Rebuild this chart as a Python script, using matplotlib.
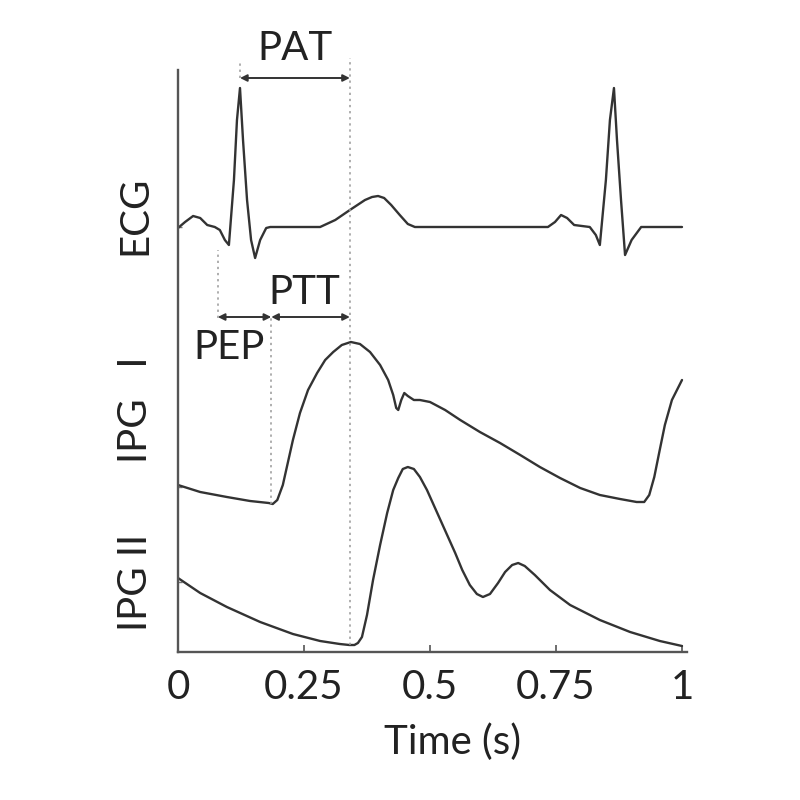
import matplotlib
matplotlib.use("Agg")
import matplotlib.pyplot as plt
import numpy as np

plt.rcParams['font.family'] = ['Lato', 'DejaVu Sans']

# ---- data (time in s, amplitude in arbitrary units) ----
ecg_t = [0.000, 0.014, 0.030, 0.044, 0.058, 0.073, 0.083, 0.093, 0.101, 0.111, 0.117, 0.123,
         0.129, 0.137, 0.145, 0.153, 0.163, 0.175, 0.183, 0.282, 0.312, 0.341, 0.371, 0.385,
         0.397, 0.409, 0.423, 0.440, 0.456, 0.470, 0.734, 0.748, 0.760, 0.772, 0.786, 0.817,
         0.829, 0.837, 0.849, 0.857, 0.865, 0.871, 0.879, 0.887, 0.900, 0.919, 1.000]
ecg_v = [424, 430, 436, 434, 427, 425, 422, 412, 407, 472, 532, 564,
         512, 452, 412, 394, 412, 424, 425, 425, 432, 442, 452, 455,
         456, 454, 447, 437, 428, 425, 425, 430, 437, 434, 427, 425,
         417, 407, 472, 532, 564, 512, 452, 397, 412, 425, 425]

ipg1_t = [0.000, 0.044, 0.097, 0.143, 0.180, 0.188, 0.197, 0.208, 0.216, 0.228, 0.242, 0.258,
          0.276, 0.292, 0.308, 0.325, 0.343, 0.361, 0.381, 0.401, 0.417, 0.427, 0.433, 0.437,
          0.443, 0.449, 0.456, 0.468, 0.480, 0.500, 0.530, 0.560, 0.599, 0.639, 0.679, 0.718,
          0.758, 0.798, 0.837, 0.877, 0.910, 0.925, 0.935, 0.945, 0.955, 0.966, 0.980, 1.000]
ipg1_v = [167, 160, 155, 151, 149, 148, 152, 167, 185, 212, 239, 262,
          279, 292, 300, 307, 310, 308, 300, 287, 272, 257, 244, 242,
          252, 259, 256, 252, 252, 250, 242, 232, 220, 209, 197, 185,
          174, 164, 157, 153, 150, 150, 157, 175, 200, 227, 252, 272]

ipg2_t = [0.000, 0.044, 0.097, 0.163, 0.228, 0.282, 0.321, 0.340, 0.350, 0.357, 0.365, 0.375,
          0.387, 0.401, 0.415, 0.427, 0.437, 0.446, 0.456, 0.468, 0.480, 0.494, 0.510, 0.534,
          0.550, 0.564, 0.579, 0.593, 0.605, 0.619, 0.635, 0.649, 0.663, 0.675, 0.688, 0.708,
          0.738, 0.778, 0.837, 0.897, 0.956, 1.000]
ipg2_v = [74, 59, 45, 30, 18, 11, 8, 7, 7, 9, 15, 37,
          72, 107, 139, 162, 174, 183, 185, 183, 175, 162, 144, 117,
          99, 82, 67, 58, 55, 58, 69, 80, 87, 89, 86, 77,
          62, 47, 32, 20, 11, 6]

x_ticks = [0, 0.25, 0.5, 0.75, 1]
x_tick_labels = ["0", "0.25", "0.5", "0.75", "1"]
trace_names = ["ECG", "IPG   I", "IPG II"]

# event times (s)
t_q = 0.079      # ECG Q onset
t_r = 0.123      # ECG R peak
t_foot1 = 0.185  # IPG I foot
t_arr = 0.341    # pulse arrival

# ---- figure ----
fig = plt.figure(figsize=(8, 8), dpi=100)
ax = fig.add_axes([0.2225, 0.185, 0.6363, 0.7275])
ax.set_xlim(0, 1.01)
ax.set_ylim(0, 582)

lc = '#333333'
for tt, vv in [(ecg_t, ecg_v), (ipg1_t, ipg1_v), (ipg2_t, ipg2_v)]:
    ax.plot(tt, vv, color=lc, lw=1.7, solid_joinstyle='round', solid_capstyle='round')

for s in ['top', 'right']:
    ax.spines[s].set_visible(False)
for s in ['left', 'bottom']:
    ax.spines[s].set_color('#555555')
    ax.spines[s].set_linewidth(1.7)

fs = 29
ax.set_xticks(x_ticks)
ax.set_xticklabels(x_tick_labels)
ax.tick_params(axis='x', direction='in', length=5, width=1.2, colors='#555555',
               labelcolor='#222222', labelsize=fs, pad=12)
ax.set_yticks([425, 165, 70])
ax.set_yticklabels([])
ax.tick_params(axis='y', direction='in', length=3, width=1, colors='#777777')

ax.set_xlabel("Time (s)", fontsize=fs, color='#222222')
ax.xaxis.set_label_coords(0.54, -0.122)

# trace labels
label_y = [437, 242, 70]
for name, yv in zip(trace_names, label_y):
    ax.text(-0.085, yv, name, rotation=90, ha='center', va='center', fontsize=fs,
            color='#222222', clip_on=False)

# dotted guide lines
dot = dict(color='#999999', lw=1.1, linestyle=(0, (1.5, 2.5)), clip_on=False)
ax.plot([t_r, t_r], [574, 592], **dot)
ax.plot([t_arr, t_arr], [7, 594], **dot)
ax.plot([t_q, t_q], [334, 402], **dot)
ax.plot([t_foot1, t_foot1], [148, 334], **dot)

arrow = dict(arrowstyle='<|-|>', color='#333333', lw=1.4, mutation_scale=10,
             shrinkA=0, shrinkB=0)
ax.annotate('', xy=(t_r, 574), xytext=(t_arr, 574), arrowprops=arrow, annotation_clip=False)
ax.annotate('', xy=(t_q, 335), xytext=(t_foot1, 335), arrowprops=arrow, annotation_clip=False)
ax.annotate('', xy=(t_foot1, 335), xytext=(t_arr, 335), arrowprops=arrow, annotation_clip=False)

ax.text((t_r + t_arr) / 2, 603, "PAT", ha='center', va='center', fontsize=fs,
        color='#222222', clip_on=False)
ax.text(0.25, 359, "PTT", ha='center', va='center', fontsize=fs, color='#222222')
ax.text(0.102, 304, "PEP", ha='center', va='center', fontsize=fs, color='#222222')

fig.savefig("out.png", dpi=100, facecolor='white')
